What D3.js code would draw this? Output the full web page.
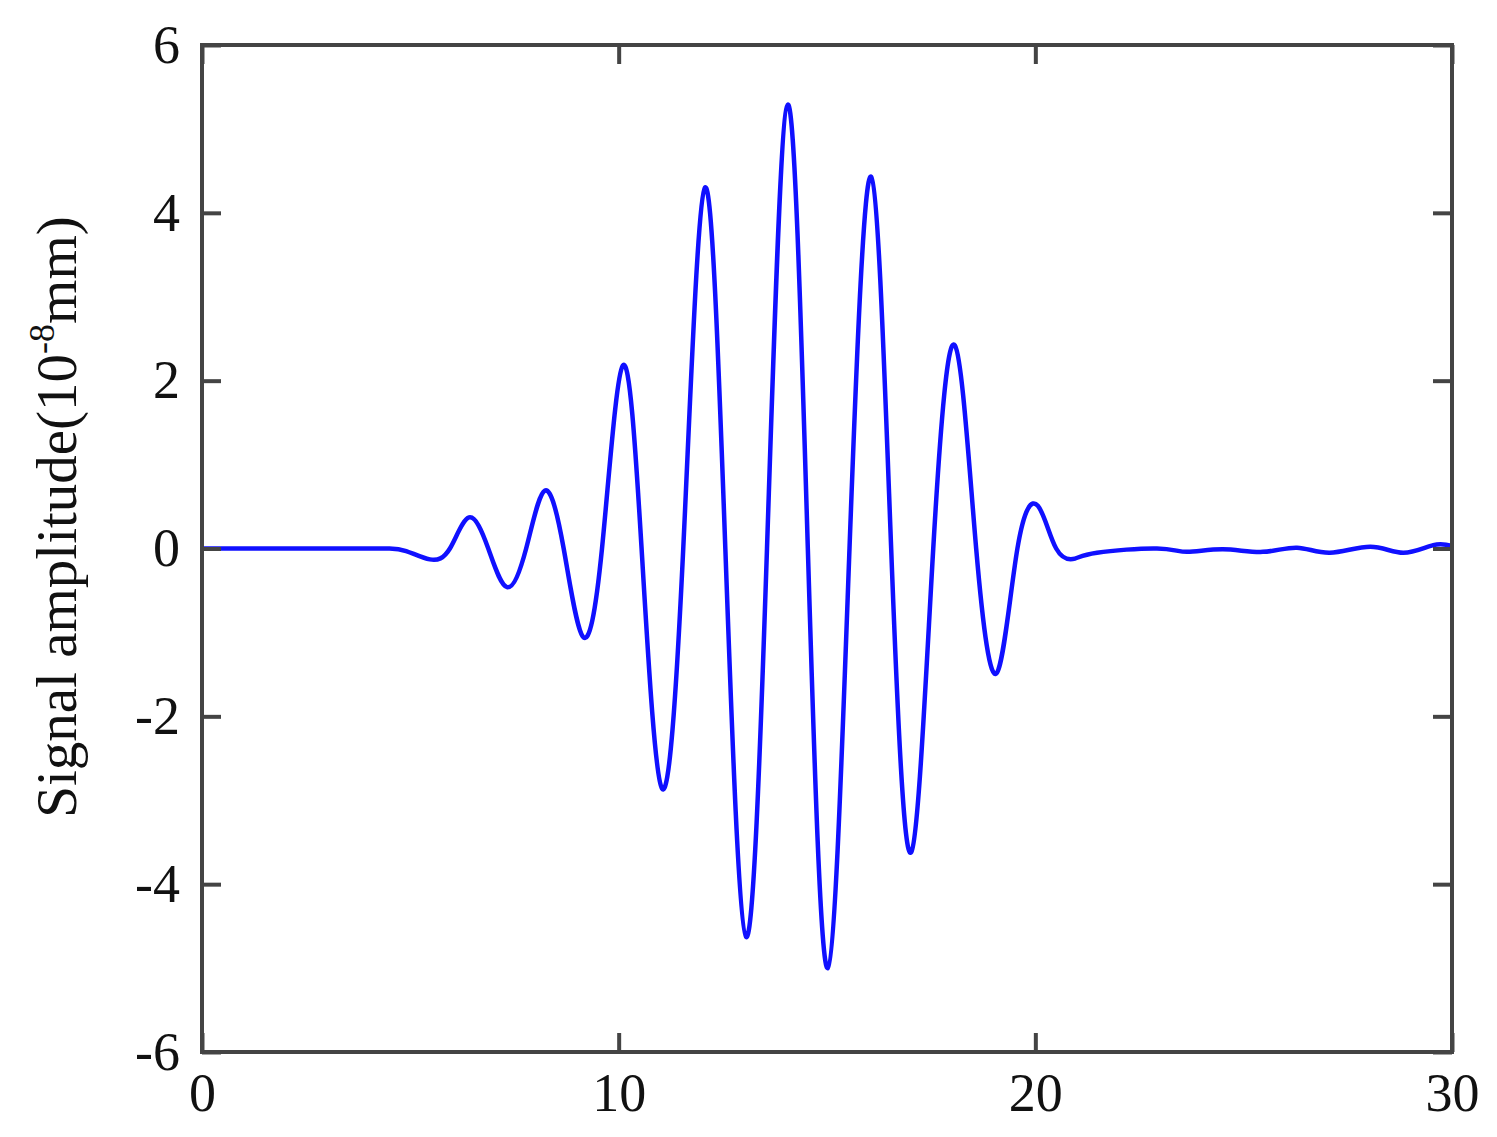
<!DOCTYPE html>
<html>
<head>
<meta charset="utf-8">
<script src="https://cdn.jsdelivr.net/npm/d3@7"></script>
<style>
  html, body { margin: 0; padding: 0; background: #fff; }
  svg { display: block; }
</style>
</head>
<body>
<div id="chart"></div>
<script>
// waveform: extrema + zero crossings (time, amplitude 1e-8 mm)
const timeVals = [0, 1.5, 3, 4.0, 4.5, 4.9, 5.47, 5.95, 6.41, 6.87, 7.32, 7.78, 8.23, 8.68, 9.14, 9.6, 10.1,
  10.55, 11.04, 11.55, 12.07, 12.56, 13.06, 13.56, 14.06, 14.54, 15.02, 15.54, 16.06, 16.54,
  17.02, 17.55, 18.07, 18.58, 19.08, 19.57, 20.06, 20.5, 20.95, 21.48, 22.92, 23.64, 24.5,
  25.46, 26.28, 27.07, 28.04, 28.83, 29.55, 30]
const ampVals = [0, 0, 0, 0, 0, -0.03, -0.13, 0, 0.37, 0, -0.46, 0, 0.69, 0, -1.05, 0, 2.18,
  0, -2.86, 0, 4.3, 0, -4.63, 0, 5.29, 0, -5.0, 0, 4.43, 0,
  -3.62, 0, 2.42, 0, -1.48, 0, 0.51, 0, -0.12, -0.05, 0.0, -0.04, -0.01,
  -0.04, 0.01, -0.05, 0.02, -0.05, 0.04, 0.03]

const xTicks = [0, 10, 20, 30]
const yTicks = [-6, -4, -2, 0, 2, 4, 6]

const W = 1497, H = 1137
const margin = { left: 202, right: 45, top: 45, bottom: 85 }

const svg = d3.select('#chart').append('svg').attr('width', W).attr('height', H)

const x = d3.scaleLinear().domain([0, 30]).range([margin.left, W - margin.right])
const y = d3.scaleLinear().domain([-6, 6]).range([H - margin.bottom, margin.top])

const font = '"Liberation Serif", "Times New Roman", serif'
const frameColor = '#444'
const fmt = d => String(d) // plain hyphen for negatives, like the original

// curve
const data = timeVals.map((t, i) => ({ t, a: ampVals[i] }))
const line = d3.line()
  .curve(d3.curveNatural)
  .x(d => x(d.t))
  .y(d => y(d.a))

svg.append('path')
  .datum(data)
  .attr('d', line)
  .attr('fill', 'none')
  .attr('stroke', '#1010ff')
  .attr('stroke-width', 4.5)
  .attr('stroke-linejoin', 'round')

// axes: inward ticks on all four sides
const tickLen = 19
const styleAxis = g => {
  g.select('.domain').remove()
  g.selectAll('.tick line').attr('stroke', frameColor).attr('stroke-width', 4)
  g.selectAll('.tick text').attr('font-family', font).attr('font-size', 54).attr('fill', '#111')
}

svg.append('g')
  .attr('transform', `translate(0,${y(-6)})`)
  .call(d3.axisBottom(x).tickValues(xTicks).tickSize(-tickLen).tickPadding(48).tickFormat(fmt))
  .call(styleAxis)
  .call(g => g.selectAll('.tick text').attr('dy', '0.2em'))

svg.append('g')
  .attr('transform', `translate(0,${y(6)})`)
  .call(d3.axisTop(x).tickValues(xTicks).tickSize(-tickLen).tickFormat(''))
  .call(styleAxis)

svg.append('g')
  .attr('transform', `translate(${x(0)},0)`)
  .call(d3.axisLeft(y).tickValues(yTicks).tickSize(-tickLen).tickPadding(22).tickFormat(fmt))
  .call(styleAxis)

svg.append('g')
  .attr('transform', `translate(${x(30)},0)`)
  .call(d3.axisRight(y).tickValues(yTicks).tickSize(-tickLen).tickFormat(''))
  .call(styleAxis)

// frame
svg.append('rect')
  .attr('x', x(0)).attr('y', y(6))
  .attr('width', x(30) - x(0)).attr('height', y(-6) - y(6))
  .attr('fill', 'none')
  .attr('stroke', frameColor)
  .attr('stroke-width', 4)

// y label with superscript
const ylab = svg.append('text')
  .attr('transform', `translate(76,${517}) rotate(-90)`)
  .attr('text-anchor', 'middle')
  .attr('font-family', font)
  .attr('font-size', 57)
  .attr('fill', '#111')
ylab.append('tspan').text('Signal amplitude(10')
ylab.append('tspan').attr('dy', -22).attr('font-size', 36).text('-8')
ylab.append('tspan').attr('dy', 22).text('mm)')
</script>
</body>
</html>
